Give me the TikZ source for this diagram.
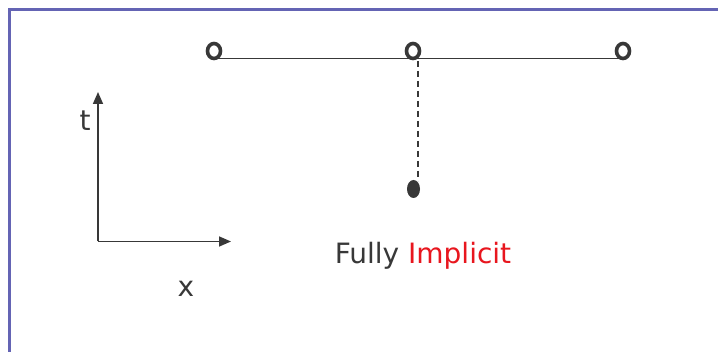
\documentclass[tikz,border=0pt]{standalone}
\usepackage{fontspec}
\setmainfont{DejaVu Sans}
\usetikzlibrary{arrows.meta,shapes.geometric}
\definecolor{ink}{HTML}{383838}
\definecolor{frame}{HTML}{6464B4}
\definecolor{redtxt}{HTML}{E8161E}
\tikzset{
  opendot/.style={ellipse, draw=ink, line width=3.6pt, fill=white, minimum width=13pt, minimum height=15pt, inner sep=0pt},
  soliddot/.style={ellipse, fill=ink, minimum width=13pt, minimum height=18pt, inner sep=0pt},
  axis/.style={draw=ink, line width=1.6pt, -{Triangle[length=12pt,width=10pt]}},
  lbl/.style={text=ink, inner sep=0pt, font=\fontsize{28}{32}\selectfont},
}
\begin{document}
\begin{tikzpicture}[x=1pt,y=-1pt]
\useasboundingbox (0,0) rectangle (718,352);
\fill[white] (0,0) rectangle (718,352);
\begin{scope}
\clip (0,0) rectangle (718,352);
\draw[frame, line width=2.4pt] (9.5,400) -- (9.5,9.5) -- (740,9.5);
\end{scope}
% top row
\coordinate (l1) at (214,58.8);
\coordinate (l3) at (623,58.8);
\draw[ink, line width=1.2pt] (l1) -- (l3);
\node[opendot] (c1) at (214,51) {};
\node[opendot] (c2) at (413,51) {};
\node[opendot] (c3) at (623,51) {};
% dashed
\node[soliddot] (d) at (413.5,189) {};
\coordinate (dtop) at (418,61);
\coordinate (dbot) at (418,181);
\draw[ink, line width=1.2pt, dash pattern=on 6pt off 4pt] (dtop) -- (dbot);
% axes
\coordinate (o) at (98,241.5);
\coordinate (ty) at (98,92);
\coordinate (tx) at (231,241.5);
\draw[axis] (o) -- (ty);
\draw[axis] (o) -- (tx);
\node[lbl] (t) at (85,121) {t};
\node[lbl] (x) at (186,289) {x};
\node[lbl, anchor=base] (fi) at (423,264) {Fully \textcolor{redtxt}{Implicit}};
\end{tikzpicture}
\end{document}
